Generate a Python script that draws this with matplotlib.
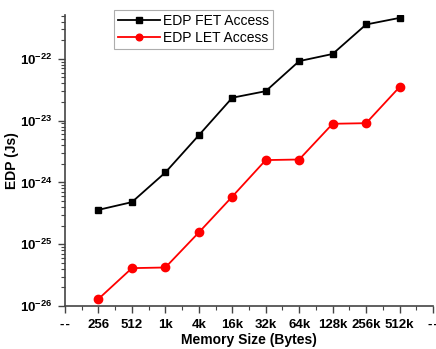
import matplotlib
matplotlib.use('Agg')
import matplotlib.pyplot as plt
from matplotlib.ticker import FixedLocator, LogLocator, NullFormatter, FixedFormatter

plt.rcParams['font.family'] = ['Liberation Sans', 'DejaVu Sans']
plt.rcParams['mathtext.fontset'] = 'custom'
plt.rcParams['mathtext.rm'] = 'Liberation Sans:bold'
plt.rcParams['mathtext.it'] = 'Liberation Sans:bold'
plt.rcParams['mathtext.bf'] = 'Liberation Sans:bold'

# Etiquetas do eixo x (tamanho da memoria)
tamanhos = ['-\u200a-', '256', '512', '1k', '4k', '16k', '32k', '64k', '128k', '256k', '512k', '-\u200a-']
pos_dados = [1, 2, 3, 4, 5, 6, 7, 8, 9, 10]

# EDP em Js
edp_fet = [3.6e-25, 4.8e-25, 1.45e-24, 5.8e-24, 2.35e-23, 3.0e-23, 9.2e-23, 1.2e-22, 3.6e-22, 4.6e-22]
edp_let = [1.3e-26, 4.1e-26, 4.2e-26, 1.55e-25, 5.9e-25, 2.3e-24, 2.35e-24, 8.9e-24, 9.1e-24, 3.5e-23]

fig = plt.figure(figsize=(4.36, 3.49), dpi=100)
ax = fig.add_axes([65/436, 1 - 306/349, 368/436, (306 - 15)/349])

ax.plot(pos_dados, edp_fet, color='black', marker='s', markersize=5, linewidth=1.3, label='EDP FET Access')
ax.plot(pos_dados, edp_let, color='red', marker='o', markersize=6, linewidth=1.3, label='EDP LET Access')

ax.set_yscale('log')
ax.set_xlim(0, 11)
ax.set_ylim(1e-26, 10 ** -21.29)

ax.xaxis.set_major_locator(FixedLocator(range(12)))
ax.xaxis.set_major_formatter(FixedFormatter(tamanhos))
ax.xaxis.set_minor_locator(FixedLocator([i + 0.5 for i in range(11)]))

ax.yaxis.set_major_locator(FixedLocator([1e-26, 1e-25, 1e-24, 1e-23, 1e-22]))
ax.yaxis.set_major_formatter(FixedFormatter([r'$10^{-26}$', r'$10^{-25}$', r'$10^{-24}$', r'$10^{-23}$', r'$10^{-22}$']))
ax.yaxis.set_minor_locator(LogLocator(base=10, subs=range(2, 10), numticks=20))
ax.yaxis.set_minor_formatter(NullFormatter())

for s in ['top', 'right']:
    ax.spines[s].set_visible(False)
for s in ['left', 'bottom']:
    ax.spines[s].set_color('#444444')
    ax.spines[s].set_linewidth(1.2)

ax.tick_params(which='major', length=5, width=1, colors='#444444', labelcolor='black', labelsize=9.5, pad=4)
ax.tick_params(which='minor', length=3, width=0.8, colors='#444444')
for lb in ax.get_xticklabels():
    lb.set_fontweight('bold')

ax.set_xlabel('Memory Size (Bytes)', fontsize=10, fontweight='bold', labelpad=2)
ax.set_ylabel('EDP (Js)', fontsize=10, fontweight='bold')
ax.yaxis.set_label_coords(-0.125, 0.5)

leg = ax.legend(loc='upper left', bbox_to_anchor=(114/436, 1 - 10/349), bbox_transform=fig.transFigure,
                fontsize=10, frameon=True, fancybox=False, edgecolor='#999999', borderpad=0.3,
                handlelength=3.0, handletextpad=0.2, labelspacing=0.2, borderaxespad=0, markerscale=0.8)
leg.get_frame().set_linewidth(0.8)

fig.savefig('out.png', dpi=100)
